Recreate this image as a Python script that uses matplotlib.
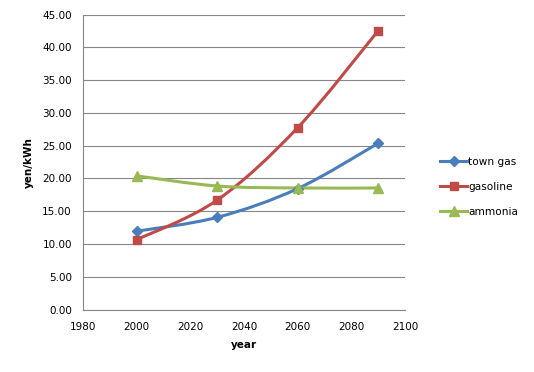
import matplotlib
matplotlib.use("Agg")
import matplotlib.pyplot as plt
from matplotlib.path import Path
from matplotlib.patches import PathPatch
from matplotlib.lines import Line2D
from matplotlib.ticker import FormatStrFormatter

years = [2000, 2030, 2060, 2090]
town_gas = [11.95, 14.07, 18.45, 25.37]
gasoline = [10.65, 16.7, 27.75, 42.55]
ammonia = [20.4, 18.85, 18.55, 18.55]

series = [
    ("town gas", town_gas, "#4a7ebb", "D", 5),
    ("gasoline", gasoline, "#be4b48", "s", 6),
    ("ammonia", ammonia, "#98b954", "^", 6.5),
]

x_ticks = [1980, 2000, 2020, 2040, 2060, 2080, 2100]
y_ticks = [0, 5, 10, 15, 20, 25, 30, 35, 40, 45]

plt.rcParams['font.family'] = ['DejaVu Sans']

fig = plt.figure(figsize=(5.34, 3.72), dpi=100)
ax = fig.add_axes([0.1554, 0.168, 0.6030, 0.7925])


def smooth_path(xs, ys):
    # Excel-style smoothed line: cubic Bezier with Catmull-Rom control points
    verts = [(xs[0], ys[0])]
    codes = [Path.MOVETO]
    n = len(xs)
    for i in range(n - 1):
        x0, y0 = (xs[i - 1], ys[i - 1]) if i > 0 else (xs[i], ys[i])
        x1, y1 = xs[i], ys[i]
        x2, y2 = xs[i + 1], ys[i + 1]
        x3, y3 = (xs[i + 2], ys[i + 2]) if i + 2 < n else (xs[i + 1], ys[i + 1])
        c1 = (x1 + (x2 - x0) / 6.0, y1 + (y2 - y0) / 6.0)
        c2 = (x2 - (x3 - x1) / 6.0, y2 - (y3 - y1) / 6.0)
        verts += [c1, c2, (x2, y2)]
        codes += [Path.CURVE4] * 3
    return Path(verts, codes)


handles = []
for name, vals, color, marker, ms in series:
    patch = PathPatch(smooth_path(years, vals), facecolor="none",
                      edgecolor=color, lw=2.2, zorder=3)
    ax.add_patch(patch)
    ax.plot(years, vals, linestyle="none", marker=marker, markersize=ms,
            color=color, markeredgecolor=color, zorder=4)
    handles.append(Line2D([0], [0], color=color, lw=2.2, marker=marker,
                          markersize=ms, label=name))

ax.set_xlim(1980, 2100)
ax.set_ylim(0, 45)
ax.set_xticks(x_ticks)
ax.set_yticks(y_ticks)
ax.yaxis.set_major_formatter(FormatStrFormatter("%.2f"))
ax.tick_params(length=0, labelsize=7.5, pad=8)
ax.tick_params(axis='x', pad=9)

ax.grid(axis='y', color="#868686", lw=0.8)
ax.set_axisbelow(True)
for s in ["top", "right"]:
    ax.spines[s].set_visible(False)
for s in ["left", "bottom"]:
    ax.spines[s].set_color("#868686")
    ax.spines[s].set_linewidth(0.8)

ax.set_xlabel("year", fontsize=7.5, fontweight="bold", labelpad=6)
ax.set_ylabel("yen/kWh", fontsize=7.5, fontweight="bold", labelpad=6)

fig.legend(handles=handles, loc="upper left", bbox_to_anchor=(0.816, 0.589),
           frameon=False, fontsize=7.6, handlelength=2.6, handletextpad=0.1,
           labelspacing=1.42, borderaxespad=0)

fig.savefig("out.png", dpi=100)
